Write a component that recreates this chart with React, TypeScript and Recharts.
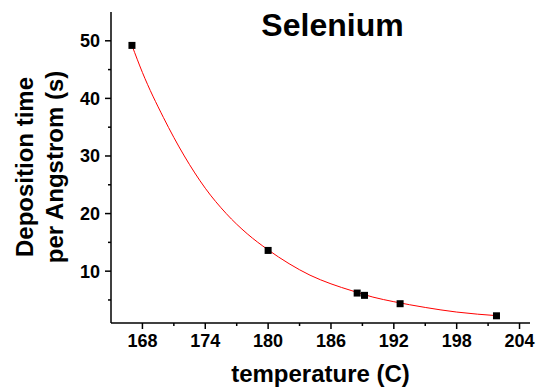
import React from 'react';
import { ComposedChart, Line, Scatter, XAxis, YAxis, Customized } from 'recharts';

// measured points
const tempPoints = [167, 180, 188.5, 189.2, 192.6, 201.8];
const timePoints = [49.2, 13.6, 6.2, 5.8, 4.35, 2.25];

// fitted curve
const fitTemps = [167, 168, 170, 172, 174, 176, 178, 180, 182, 184, 186, 188, 190, 192, 195, 198, 202];
const fitTimes = [49.2, 44.5, 36.7, 30.0, 24.4, 20.0, 16.5, 13.7, 11.3, 9.3, 7.8, 6.6, 5.5, 4.7, 3.7, 2.9, 2.25];

const xMajor = [168, 174, 180, 186, 192, 198, 204];
const xMinor = [171, 177, 183, 189, 195, 201];
const yMajor = [10, 20, 30, 40, 50];
const yMinor = [5, 15, 25, 35, 45];

const titleText = 'Selenium';
const xLabel = 'temperature (C)';
const yLabel1 = 'Deposition time';
const yLabel2 = 'per Angstrom (s)';

const pointData = tempPoints.map((t, i) => ({ x: t, y: timePoints[i] }));
const fitData = fitTemps.map((t, i) => ({ x: t, y: fitTimes[i] }));

const FONT = '"Liberation Sans", Arial, sans-serif';

const XTick = (props: any) => {
  const { x, y, payload } = props;
  const major = xMajor.includes(payload.value);
  return (
    <g>
      <line x1={x} y1={y} x2={x} y2={y + (major ? 6 : 3)} stroke="#000" strokeWidth={1.5} />
      {major && (
        <text x={x} y={y + 24} textAnchor="middle" fontFamily={FONT} fontWeight="bold" fontSize={18} fill="#000">
          {payload.value}
        </text>
      )}
    </g>
  );
};

const YTick = (props: any) => {
  const { x, y, payload } = props;
  const major = yMajor.includes(payload.value);
  return (
    <g>
      <line x1={x - (major ? 6 : 3)} y1={y} x2={x} y2={y} stroke="#000" strokeWidth={1.5} />
      {major && (
        <text x={x - 11} y={y + 6.5} textAnchor="end" fontFamily={FONT} fontWeight="bold" fontSize={18} fill="#000">
          {payload.value}
        </text>
      )}
    </g>
  );
};

const Labels = () => (
  <g fontFamily={FONT} fontWeight="bold" fill="#000">
    <text x={332.5} y={35.7} textAnchor="middle" fontSize={32}>{titleText}</text>
    <text x={320.5} y={382} textAnchor="middle" fontSize={24}>{xLabel}</text>
    <text x={33.3} y={167} textAnchor="middle" fontSize={24} transform="rotate(-90, 33.3, 167)">{yLabel1}</text>
    <text x={62.7} y={167} textAnchor="middle" fontSize={24} transform="rotate(-90, 62.7, 167)">{yLabel2}</text>
  </g>
);

const SquareDot = (props: any) => {
  const { cx, cy } = props;
  return <rect x={cx - 3.5} y={cy - 3.5} width={7} height={7} fill="#000" />;
};

export default function App() {
  return (
    <div style={{ position: 'absolute', left: 0, top: 0, background: '#fff' }}>
      <ComposedChart width={538} height={391} margin={{ top: 12, right: 8, bottom: 38, left: 51 }}>
        <XAxis
          type="number"
          dataKey="x"
          domain={[165, 205]}
          ticks={[...xMajor, ...xMinor].sort((a, b) => a - b)}
          interval={0}
          tickSize={0}
          tickMargin={0}
          tickLine={false}
          tick={<XTick />}
          axisLine={{ stroke: '#000', strokeWidth: 1.5 }}
          height={30}
          allowDataOverflow
        />
        <YAxis
          type="number"
          dataKey="y"
          domain={[1, 55]}
          ticks={[...yMajor, ...yMinor].sort((a, b) => a - b)}
          interval={0}
          tickSize={0}
          tickMargin={0}
          tickLine={false}
          tick={<YTick />}
          axisLine={{ stroke: '#000', strokeWidth: 1.5 }}
          width={60}
          allowDataOverflow
        />
        <Line
          data={fitData}
          dataKey="y"
          type="monotone"
          stroke="#ff0000"
          strokeWidth={1}
          dot={false}
          activeDot={false}
          isAnimationActive={false}
        />
        <Scatter data={pointData} dataKey="y" shape={<SquareDot />} fill="#000" isAnimationActive={false} />
        <Customized component={Labels} />
      </ComposedChart>
    </div>
  );
}
